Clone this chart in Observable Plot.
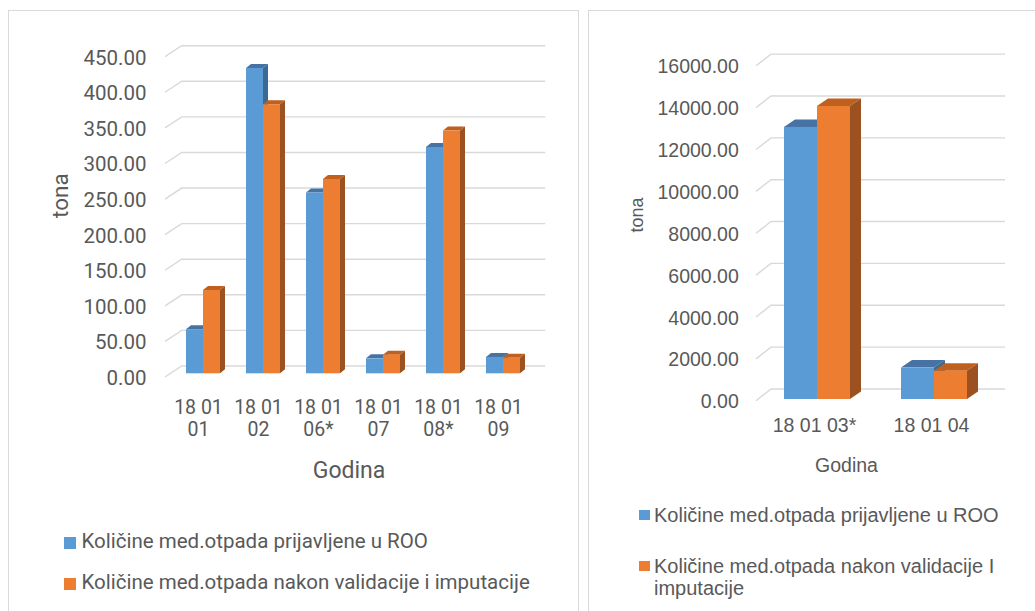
<!DOCTYPE html>
<html>
<head>
<meta charset="utf-8">
<script src="https://cdn.jsdelivr.net/npm/d3@7"></script>
<script src="https://cdn.jsdelivr.net/npm/@observablehq/plot@0.6"></script>
<style>
  html, body { margin: 0; padding: 0; background: #fff; }
  body { position: relative; width: 1035px; height: 611px; overflow: hidden; }
  .panel { position: absolute; border: 1px solid #d9d9d9; box-sizing: border-box; background: #fff; }
  #p1 { left: 8px; top: 10px; width: 571px; height: 640px; }
  #p2 { left: 588px; top: 10px; width: 470px; height: 640px; }
  .chart { position: absolute; top: 0; }
  #c1 { left: 9px; }
  #c2 { left: 590px; }
  .leg { position: absolute; color: #595959; white-space: nowrap; }
  .sw { position: absolute; }
  #l1 .txt { font-family: Roboto, sans-serif; font-size: 20.5px; }
  #l2 .txt { font-family: "Liberation Sans", Arial, sans-serif; font-size: 20px; line-height: 22px; white-space: normal; width: 352px; }
</style>
</head>
<body>
<div class="panel" id="p1"></div>
<div class="panel" id="p2"></div>
<div class="chart" id="c1"></div>
<div class="chart" id="c2"></div>
<div id="l1"></div>
<div id="l2"></div>
<script>
// ---------- data ----------
const seriesNames = ["Količine med.otpada prijavljene u ROO", "Količine med.otpada nakon validacije i imputacije"];
const seriesNamesRight = ["Količine med.otpada prijavljene u ROO", "Količine med.otpada nakon validacije I imputacije"];

const categoriesLeft = ["18 01\n01", "18 01\n02", "18 01\n06*", "18 01\n07", "18 01\n08*", "18 01\n09"];
const reportedLeft   = [62, 429, 254, 21, 318, 23];
const validatedLeft  = [117, 378, 273, 26, 341, 22];
const ticksLeft      = [0, 50, 100, 150, 200, 250, 300, 350, 400, 450];

const categoriesRight = ["18 01 03*", "18 01 04"];
const reportedRight   = [13000, 1500];
const validatedRight  = [14000, 1350];
const ticksRight      = [0, 2000, 4000, 6000, 8000, 10000, 12000, 14000, 16000];

const axisTitleX = "Godina";
const axisTitleY = "tona";

// ---------- colours ----------
const BLUE = "#5B9BD5", BLUE_TOP = "#4673A3", BLUE_SIDE = "#3D6A94";
const ORANGE = "#ED7D31", ORANGE_TOP = "#C0601F", ORANGE_SIDE = "#9C5220";
const GRID = "#D9D9D9", TEXT = "#595959";

// 3D extrusion of bar rects (top + side faces), drawn through Plot's rendered bars
function extrude(ddx, ddy, topColor, sideColor) {
  return function(index, scales, values, dims, ctx, next) {
    const g = next(index, scales, values, dims, ctx);
    const NS = "http://www.w3.org/2000/svg";
    for (const r of Array.from(g.querySelectorAll("rect"))) {
      const x = +r.getAttribute("x"), y = +r.getAttribute("y");
      const w = +r.getAttribute("width"), h = +r.getAttribute("height");
      const top = document.createElementNS(NS, "polygon");
      top.setAttribute("points", `${x},${y} ${x + w},${y} ${x + w + ddx},${y - ddy} ${x + ddx},${y - ddy}`);
      top.setAttribute("fill", topColor);
      const side = document.createElementNS(NS, "polygon");
      side.setAttribute("points", `${x + w},${y} ${x + w},${y + h} ${x + w + ddx},${y + h - ddy} ${x + w + ddx},${y - ddy}`);
      side.setAttribute("fill", sideColor);
      r.parentNode.insertBefore(top, r);
      r.parentNode.insertBefore(side, r);
    }
    return g;
  };
}

// back-wall gridlines with the floor diagonal, positioned from the y scale
function wallGrid(front, back) {
  return function(index, scales, values, dims) {
    const g = d3.create("svg:g").attr("fill", "none").attr("stroke", GRID).attr("stroke-width", 1.4);
    const x0 = dims.marginLeft, x1 = dims.width - dims.marginRight;
    for (const i of index) {
      const y = values.y[i];
      g.append("path").attr("d", `M${x0 + front[0]},${y + front[1]}L${x0 + back[0]},${y + back[1]}H${x1 + back[0]}`);
    }
    return g.node();
  };
}

function makeChart(cfg) {
  const rep = cfg.categories.map((c, i) => ({category: c, value: cfg.reported[i]}));
  const val = cfg.categories.map((c, i) => ({category: c, value: cfg.validated[i]}));
  return Plot.plot({
    width: cfg.width, height: cfg.height,
    marginLeft: cfg.ml, marginRight: cfg.mr, marginTop: cfg.mt, marginBottom: cfg.mb,
    style: {fontFamily: cfg.font, color: TEXT, background: "none", overflow: "visible"},
    x: {domain: cfg.categories, paddingInner: 0.44, paddingOuter: 0.22, axis: null},
    y: {domain: cfg.domain, axis: null},
    marks: [
      Plot.ruleY(cfg.ticks, {y: d => d, render: wallGrid(cfg.front, cfg.back)}),
      Plot.axisY({ticks: cfg.ticks, tickFormat: d3.format(".2f"), tickSize: 0, tickPadding: cfg.tickPadY,
                  dy: cfg.tickDyY, fontSize: cfg.tickFont, label: null, fill: TEXT}),
      Plot.axisX({tickSize: 0, tickPadding: cfg.tickPadX, dx: cfg.tickDxX, fontSize: cfg.catFont,
                  lineHeight: cfg.lineHeight, label: null, fill: TEXT}),
      Plot.barY(rep, {x: "category", y: "value", fill: BLUE, insetRight: cfg.half,
                      render: extrude(cfg.depth[0], cfg.depth[1], BLUE_TOP, BLUE_SIDE)}),
      Plot.barY(val, {x: "category", y: "value", fill: ORANGE, insetLeft: cfg.half,
                      render: extrude(cfg.depth[0], cfg.depth[1], ORANGE_TOP, ORANGE_SIDE)}),
      Plot.text([axisTitleX], {frameAnchor: "bottom", lineAnchor: "top", dx: cfg.gDx, dy: cfg.gDy,
                               fontSize: cfg.titleFont, fill: TEXT}),
      Plot.text([axisTitleY], {frameAnchor: "left", rotate: -90, dx: cfg.tDx, dy: cfg.tDy,
                               fontSize: cfg.tonaFont, fill: TEXT})
    ]
  });
}

const left = makeChart({
  categories: categoriesLeft, reported: reportedLeft, validated: validatedLeft,
  ticks: ticksLeft, domain: [0, 450],
  width: 565, height: 500, ml: 161.7, mr: 39.7, mt: 53, mb: 126.7,
  font: "Roboto, sans-serif",
  front: [-5.7, 3.7], back: [11, -7.3], depth: [5, 4], half: 17,
  tickPadY: 24.7, tickDyY: 4.5, tickFont: 20.5,
  tickPadX: 25, tickDxX: -5, catFont: 19.5, lineHeight: 1.11,
  gDx: -4, gDy: 88, titleFont: 23,
  tDx: -110.7, tDy: 4.3, tonaFont: 22.5
});
document.getElementById("c1").append(left);

const right = makeChart({
  categories: categoriesRight, reported: reportedRight, validated: validatedRight,
  ticks: ticksRight, domain: [0, 16000],
  width: 440, height: 500, ml: 168, mr: 38, mt: 64.1, mb: 101,
  font: "'Liberation Sans', Arial, sans-serif",
  front: [-2, 1.7], back: [13, -10], depth: [11, 7.5], half: 33,
  tickPadY: 19.7, tickDyY: 2.6, tickFont: 19.5,
  tickPadX: 17, tickDxX: -3, catFont: 19.5, lineHeight: 1.1,
  gDx: -29, gDy: 59, titleFont: 19.5,
  tDx: -121.5, tDy: 0.5, tonaFont: 18
});
document.getElementById("c2").append(right);

// ---------- legends ----------
function legend(id, names, colors, items) {
  const root = document.getElementById(id);
  names.forEach((name, i) => {
    const it = items[i];
    const sw = document.createElement("div");
    sw.className = "sw";
    Object.assign(sw.style, {left: it.sx + "px", top: it.sy + "px", width: it.sw + "px", height: it.sh + "px", background: colors[i]});
    root.append(sw);
    const t = document.createElement("div");
    t.className = "leg txt";
    Object.assign(t.style, {left: it.tx + "px", top: it.ty + "px"});
    t.textContent = name;
    root.append(t);
  });
}
legend("l1", seriesNames, [BLUE, ORANGE], [
  {sx: 63.5, sy: 537, sw: 12, sh: 12, tx: 81.5, ty: 529},
  {sx: 63.5, sy: 578, sw: 12, sh: 12, tx: 81.5, ty: 570}
]);
legend("l2", seriesNamesRight, [BLUE, ORANGE], [
  {sx: 639, sy: 510, sw: 11, sh: 10, tx: 654, ty: 504},
  {sx: 639, sy: 561, sw: 11, sh: 10, tx: 654, ty: 555}
]);
</script>
</body>
</html>
